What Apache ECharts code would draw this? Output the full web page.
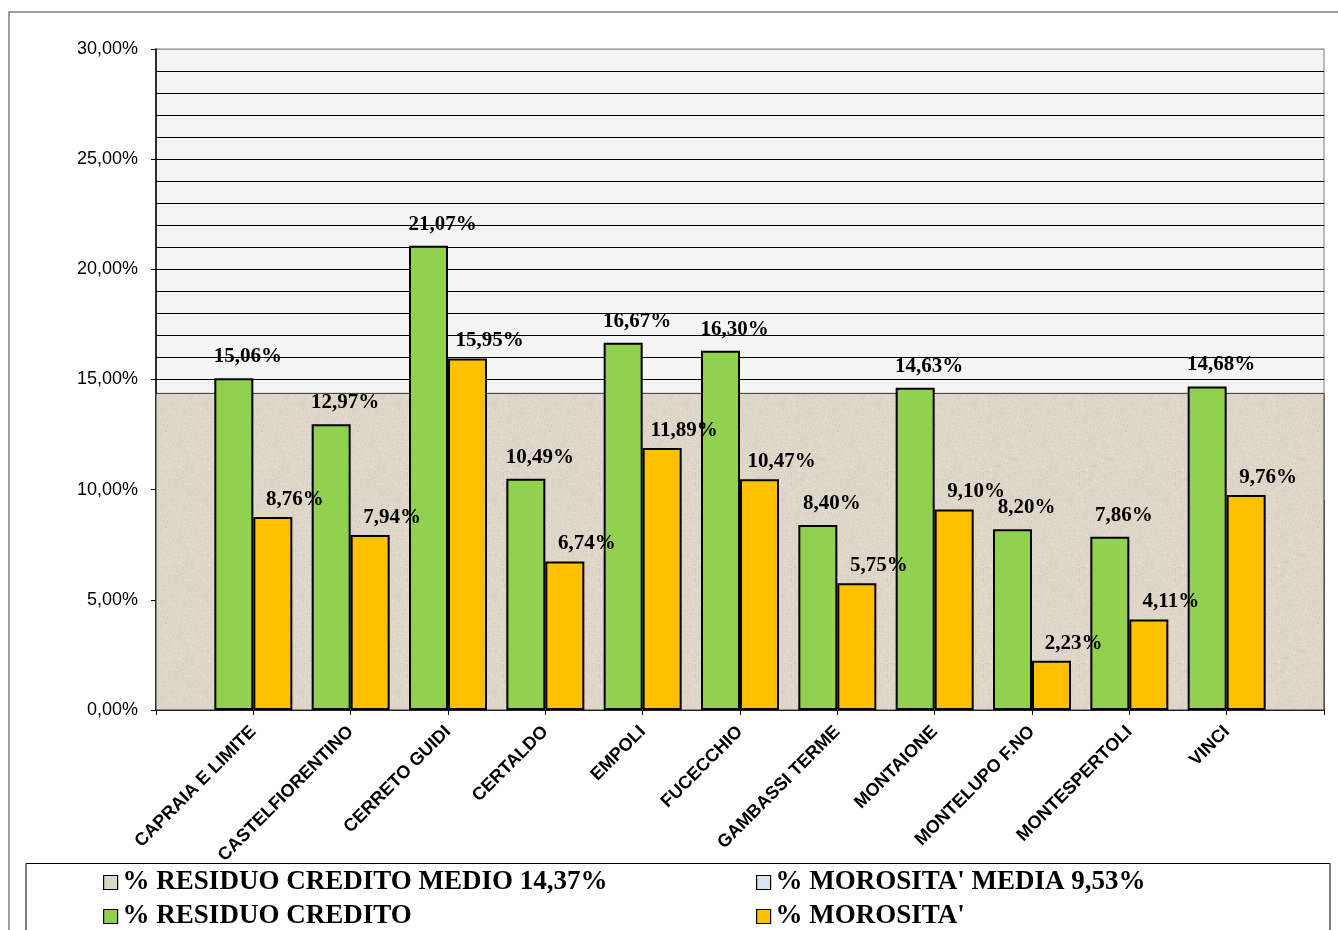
<!DOCTYPE html>
<html>
<head>
<meta charset="utf-8">
<title>Residuo credito e morosità</title>
<script src="https://cdn.jsdelivr.net/npm/echarts@6/dist/echarts.min.js"></script>
<style>
  html, body { margin: 0; padding: 0; background: #ffffff; }
  #chart { width: 1338px; height: 930px; }
</style>
</head>
<body>
<div id="chart"></div>
<script>
// Comuni
const comuni = [
  'CAPRAIA E LIMITE', 'CASTELFIORENTINO', 'CERRETO GUIDI', 'CERTALDO', 'EMPOLI',
  'FUCECCHIO', 'GAMBASSI TERME', 'MONTAIONE', 'MONTELUPO F.NO', 'MONTESPERTOLI', 'VINCI'
];
// % residuo credito per comune
const residuoCredito = [15.06, 12.97, 21.07, 10.49, 16.67, 16.30, 8.40, 14.63, 8.20, 7.86, 14.68];
// % morosità per comune
const morosita = [8.76, 7.94, 15.95, 6.74, 11.89, 10.47, 5.75, 9.10, 2.23, 4.11, 9.76];
// valori medi
const residuoMedio = 14.37;
const morositaMedia = 9.53;
// asse Y
const yMin = 0, yMax = 30, yStep = 5;

const pct = v => v.toFixed(2).replace('.', ',') + '%';

const nomeResiduoMedio = '% RESIDUO CREDITO MEDIO ' + pct(residuoMedio);
const nomeMorositaMedia = "% MOROSITA' MEDIA " + pct(morositaMedia);
const nomeResiduo = '% RESIDUO CREDITO';
const nomeMorosita = "% MOROSITA'";

// the category axis runs tick-to-tick, with an empty slot at each end
const assiX = [''].concat(comuni, ['']);
const pad = arr => [null].concat(arr, [null]);

const serif = "'Liberation Serif', 'Times New Roman', serif";
const sans = "'Liberation Sans', Arial, sans-serif";

// paper-like speckled fill for the "credito medio" band (deterministic hash noise)
function paperTexture() {
  const size = 96;
  const c = document.createElement('canvas');
  c.width = size; c.height = size;
  const ctx = c.getContext('2d');
  const img = ctx.createImageData(size, size);
  const base = [221, 214, 201];
  for (let y = 0; y < size; y++) {
    for (let x = 0; x < size; x++) {
      let h = (x * 374761393 + y * 668265263) | 0;
      h = Math.imul(h ^ (h >>> 13), 1274126177);
      h = (h ^ (h >>> 16)) >>> 0;
      const n = (h % 1000) / 1000;
      let d = (n - 0.5) * 10;
      if (n > 0.985) d -= 22;
      const i = (y * size + x) * 4;
      img.data[i] = base[0] + d;
      img.data[i + 1] = base[1] + d;
      img.data[i + 2] = base[2] + d;
      img.data[i + 3] = 255;
    }
  }
  ctx.putImageData(img, 0, 0);
  return c;
}
const beige = { image: paperTexture(), repeat: 'repeat' };

const chart = echarts.init(document.getElementById('chart'), null, { renderer: 'canvas' });

const legendText = { fontFamily: serif, fontWeight: 'bold', fontSize: 27, color: '#000', lineHeight: 26 };

// major grid lines are black, except the top edge which follows the plot border
const majorColors = ['#000', '#000', '#000', '#000', '#000', '#000', '#a6a6a6'];

// two legend columns inside the framed box at the bottom
const legendBox = { top: 869, orient: 'vertical', padding: 0, itemGap: 7,
  itemWidth: 14, itemHeight: 14, icon: 'rect', textStyle: legendText };

chart.setOption({
  animation: false,
  backgroundColor: '#ffffff',
  graphic: [
    { type: 'rect', z: -10, shape: { x: 9, y: 12, width: 1345, height: 940 },
      style: { fill: 'none', stroke: '#7f7f7f', lineWidth: 1.5 } },
    { type: 'rect', z: -10, shape: { x: 26, y: 863.5, width: 1304, height: 100 },
      style: { fill: 'none', stroke: '#000', lineWidth: 1 } }
  ],
  grid: {
    left: 156, top: 49, right: 14, bottom: 220,
    show: true, backgroundColor: '#f4f4f4', borderColor: '#a6a6a6', borderWidth: 1.5
  },
  legend: [
    Object.assign({}, legendBox, {
      left: 103,
      data: [
        { name: nomeResiduoMedio, itemStyle: { color: '#ddd6c9', borderColor: '#000', borderWidth: 1.2 } },
        { name: nomeResiduo, itemStyle: { color: '#92d050', borderColor: '#000', borderWidth: 1.2 } }
      ]
    }),
    Object.assign({}, legendBox, {
      left: 756,
      data: [
        { name: nomeMorositaMedia, itemStyle: { color: '#dbe5f1', borderColor: '#000', borderWidth: 1.2 } },
        { name: nomeMorosita, itemStyle: { color: '#ffc000', borderColor: '#000', borderWidth: 1.2 } }
      ]
    })
  ],
  xAxis: {
    type: 'category',
    data: assiX,
    boundaryGap: false,
    axisLine: { lineStyle: { color: '#000', width: 1.5 } },
    axisTick: { show: true, interval: 0, length: 5, lineStyle: { color: '#000', width: 1 } },
    axisLabel: {
      interval: 0, rotate: 45, margin: 19,
      fontFamily: sans, fontWeight: 'bold', fontSize: 18, color: '#000'
    },
    splitLine: { show: false }
  },
  yAxis: {
    type: 'value',
    min: yMin, max: yMax, interval: yStep,
    axisLine: { show: true, lineStyle: { color: '#000', width: 1.5 } },
    axisTick: { show: true, length: 5, lineStyle: { color: '#000', width: 1 } },
    minorTick: { show: false, splitNumber: 5 },
    axisLabel: {
      margin: 18, fontFamily: sans, fontSize: 18, color: '#000',
      formatter: v => pct(v)
    },
    splitLine: { show: true, lineStyle: { color: majorColors, width: 1 } },
    minorSplitLine: { show: true, lineStyle: { color: '#000', width: 1 } }
  },
  series: [
    {
      name: nomeMorositaMedia, type: 'line', data: [], z: 1,
      itemStyle: { color: '#dbe5f1' },
      markArea: {
        silent: true,
        itemStyle: { color: '#dbe5f1', borderColor: '#222', borderWidth: 1 },
        data: [[{ yAxis: 0 }, { yAxis: morositaMedia }]]
      }
    },
    {
      name: nomeResiduoMedio, type: 'line', data: [], z: 2,
      itemStyle: { color: '#ddd6c9' },
      markArea: {
        silent: true,
        itemStyle: { color: beige, borderColor: '#333', borderWidth: 1 },
        data: [[{ yAxis: 0 }, { yAxis: residuoMedio }]]
      }
    },
    {
      name: nomeResiduo, type: 'bar', z: 5,
      data: pad(residuoCredito),
      barWidth: 39, barGap: '0%',
      itemStyle: { color: '#92d050', borderColor: '#000', borderWidth: 2 },
      label: {
        show: true, position: 'top', distance: 11, offset: [14, 0],
        fontFamily: serif, fontWeight: 'bold', fontSize: 21, color: '#000',
        formatter: p => pct(p.value)
      }
    },
    {
      name: nomeMorosita, type: 'bar', z: 5,
      data: pad(morosita),
      barWidth: 39, barGap: '0%',
      itemStyle: { color: '#ffc000', borderColor: '#000', borderWidth: 2 },
      label: {
        show: true, position: 'top', distance: 7, offset: [22, 0],
        fontFamily: serif, fontWeight: 'bold', fontSize: 21, color: '#000',
        formatter: p => pct(p.value)
      }
    }
  ]
});
</script>
</body>
</html>
